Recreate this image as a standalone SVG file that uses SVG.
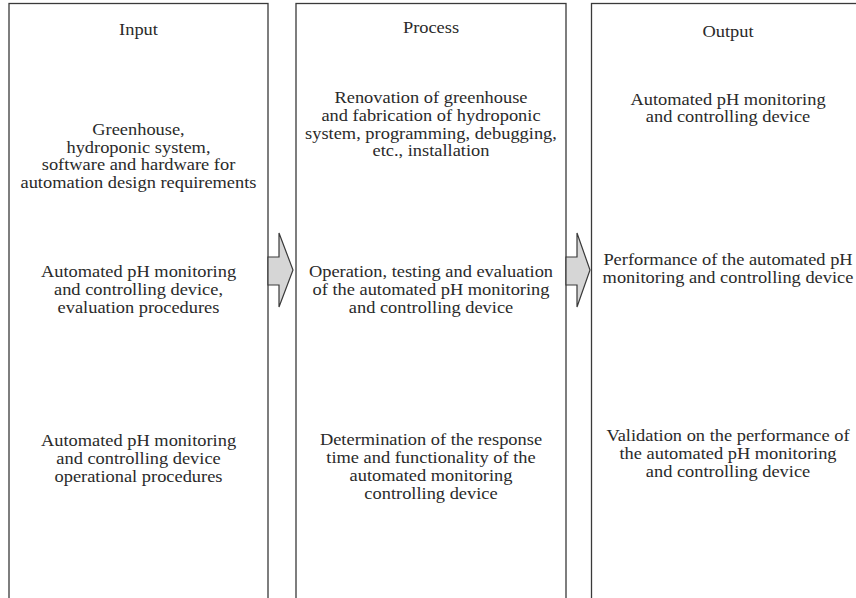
<svg xmlns="http://www.w3.org/2000/svg" width="856" height="598" viewBox="0 0 856 598">
<style>
.box{fill:#fff;stroke:#3a3a3a;stroke-width:1.3}
.arr{fill:#d6d6d6;stroke:#3a3a3a;stroke-width:1.2;stroke-linejoin:miter}
text{font-family:"Liberation Serif","Times New Roman",serif;font-size:16px;fill:#2a2a2a;text-anchor:middle}
</style>
<rect width="856" height="598" fill="#fff"/>
<g id="input">
<rect class="box" x="9" y="3.5" width="259" height="600"/>
<g transform="translate(138.5,0) scale(1.15,1)">
<text x="0" y="35">Input</text>
<text x="0" y="135.5">Greenhouse,</text>
<text x="0" y="153">hydroponic system,</text>
<text x="0" y="170.5">software and hardware for</text>
<text x="0" y="188">automation design requirements</text>
<text x="0" y="277">Automated pH monitoring</text>
<text x="0" y="295">and controlling device,</text>
<text x="0" y="313">evaluation procedures</text>
<text x="0" y="446">Automated pH monitoring</text>
<text x="0" y="464">and controlling device</text>
<text x="0" y="482">operational procedures</text>
</g>
</g>
<g id="process">
<rect class="box" x="296" y="3.5" width="270" height="600"/>
<g transform="translate(431,0) scale(1.15,1)">
<text x="0" y="33.5">Process</text>
<text x="0" y="103.5">Renovation of greenhouse</text>
<text x="0" y="121.2">and fabrication of hydroponic</text>
<text x="0" y="138.9">system, programming, debugging,</text>
<text x="0" y="156.5">etc., installation</text>
<text x="0" y="277">Operation, testing and evaluation</text>
<text x="0" y="295">of the automated pH monitoring</text>
<text x="0" y="313">and controlling device</text>
<text x="0" y="445">Determination of the response</text>
<text x="0" y="463">time and functionality of the</text>
<text x="0" y="481">automated monitoring</text>
<text x="0" y="499">controlling device</text>
</g>
</g>
<g id="output">
<rect class="box" x="591.5" y="3.5" width="280" height="600"/>
<g transform="translate(728,0) scale(1.15,1)">
<text x="0" y="37.5">Output</text>
<text x="0" y="105">Automated pH monitoring</text>
<text x="0" y="122.5">and controlling device</text>
<text x="0" y="265">Performance of the automated pH</text>
<text x="0" y="283">monitoring and controlling device</text>
<text x="0" y="441">Validation on the performance of</text>
<text x="0" y="459">the automated pH monitoring</text>
<text x="0" y="477">and controlling device</text>
</g>
</g>
<g id="connectors">
<polygon class="arr" points="268,257 279,257 279,233 293,270 279,307 279,285 268,285"/>
<polygon class="arr" points="566,257 577,257 577,233 590,270 577,307 577,285 566,285"/>
</g>
</svg>
